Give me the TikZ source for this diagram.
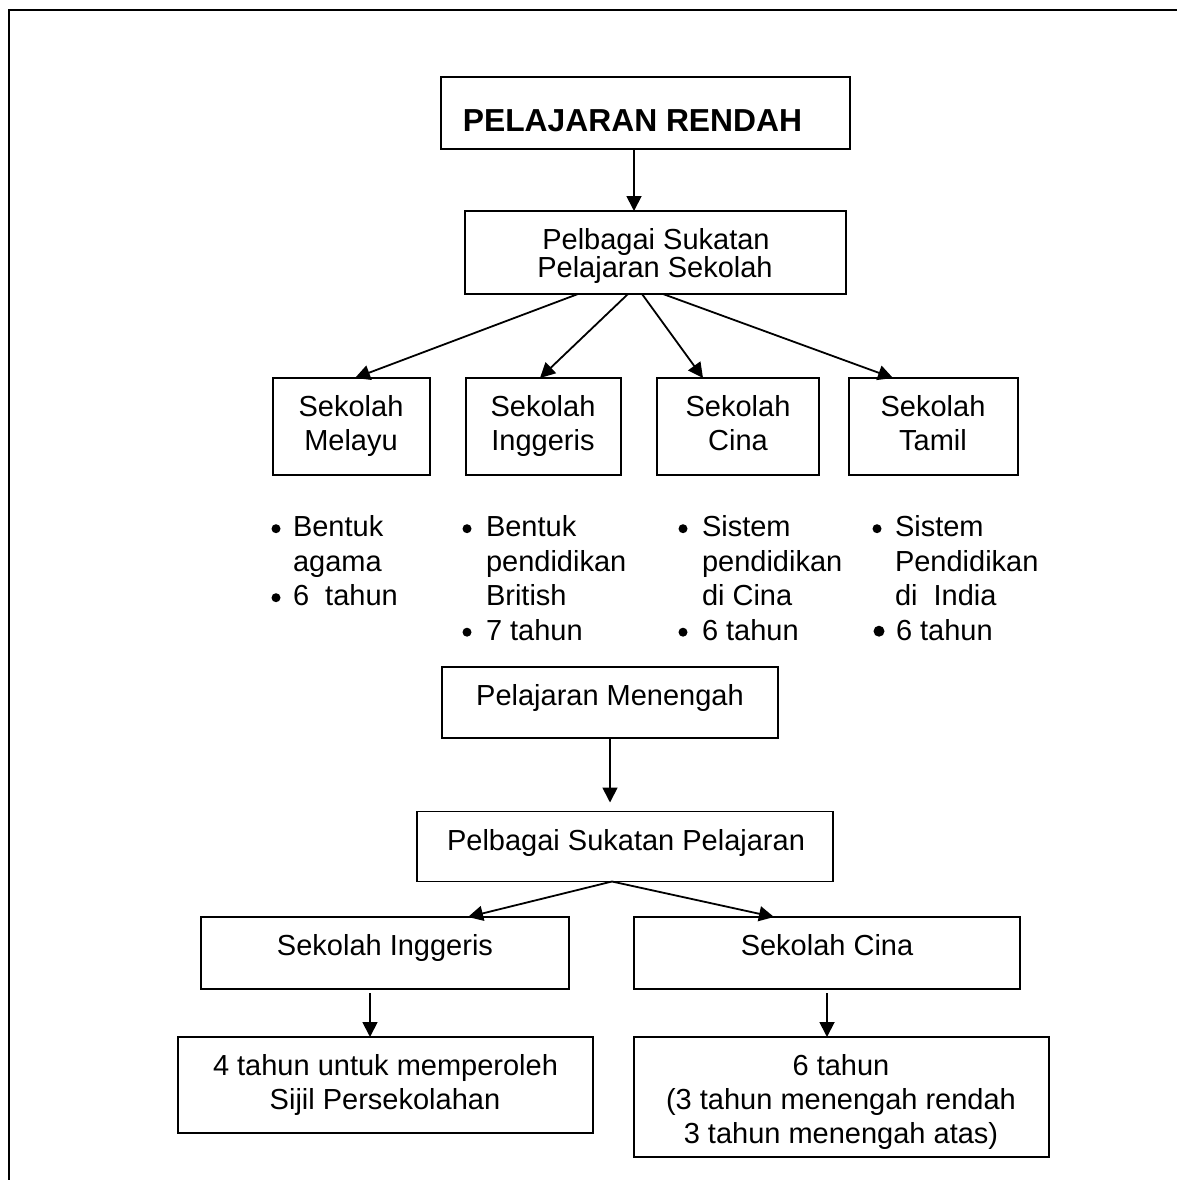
\documentclass[tikz,border=0pt]{standalone}
\usepackage{fontspec}
\setmainfont{Liberation Sans}
\usetikzlibrary{arrows.meta}
\newcommand\fsn{\fontsize{29}{34.5}\selectfont}
\newcommand\fsb{\fontsize{31.8}{36}\selectfont\bfseries}
\begin{document}
\begin{tikzpicture}[x=1pt,y=-1pt,
  box/.style={draw, line width=1.8pt, inner sep=0pt, outer sep=0pt},
  txt/.style={inner sep=0pt, outer sep=0pt, font=\fsn, anchor=base},
  ltxt/.style={txt, anchor=base west},
  arr/.style={line width=1.8pt, -{Triangle[length=15pt,width=15pt]}},
  dot/.style={circle, fill, draw=none, inner sep=0pt, minimum size=9pt},
  bigdot/.style={dot, minimum size=11pt}]
\useasboundingbox (0,0) rectangle (1177,1180);
% outer frame
\draw[line width=2.6pt] (9,1190) -- (9,10) -- (1190,10);

% boxes
\node[box, minimum width=409pt, minimum height=72pt] (top) at (645.5,113) {};
\node[box, minimum width=381pt, minimum height=83pt] (pss) at (655.5,252.5) {};
\node[box, minimum width=157pt, minimum height=97pt] (mel) at (351.5,426.5) {};
\node[box, minimum width=155pt, minimum height=97pt] (ing) at (543.5,426.5) {};
\node[box, minimum width=162pt, minimum height=97pt] (cin) at (738,426.5) {};
\node[box, minimum width=169pt, minimum height=97pt] (tam) at (933.5,426.5) {};
\node[box, minimum width=336pt, minimum height=71pt] (men) at (610,702.5) {};
\node[box, minimum width=416pt, minimum height=70pt] (psp) at (625,846.5) {};
\node[box, minimum width=368pt, minimum height=72pt] (singb) at (385,953) {};
\node[box, minimum width=386pt, minimum height=72pt] (scinb) at (827,953) {};
\node[box, minimum width=415pt, minimum height=96pt] (four) at (385.5,1085) {};
\node[box, minimum width=415pt, minimum height=120pt] (six) at (841.5,1097) {};

% texts in boxes
\node[txt, font=\fsb] (ttop) at (632.5,131.5) {PELAJARAN RENDAH};
\node[txt] (tpss1) at (656,249) {Pelbagai Sukatan};
\node[txt] (tpss2) at (655,277) {Pelajaran Sekolah};
\node[txt] (tmel1) at (351,416.7) {Sekolah};
\node[txt] (tmel2) at (351,450) {Melayu};
\node[txt] (ting1) at (543,416.7) {Sekolah};
\node[txt] (ting2) at (543,450) {Inggeris};
\node[txt] (tcin1) at (738,416.7) {Sekolah};
\node[txt] (tcin2) at (738,450) {Cina};
\node[txt] (ttam1) at (933,416.7) {Sekolah};
\node[txt] (ttam2) at (933,450) {Tamil};
\node[txt] (tmen) at (610,705) {Pelajaran Menengah};
\node[txt] (tpsp) at (626,850) {Pelbagai Sukatan Pelajaran};
\node[txt] (tsingb) at (385,955) {Sekolah Inggeris};
\node[txt] (tscinb) at (827,955) {Sekolah Cina};
\node[txt] (tfour1) at (385.5,1075) {4 tahun untuk memperoleh};
\node[txt] (tfour2) at (385,1109) {Sijil Persekolahan};
\node[txt] (tsix1) at (841,1075) {6 tahun};
\node[txt] (tsix2) at (841,1109) {(3 tahun menengah rendah};
\node[txt] (tsix3) at (841,1143) {3 tahun menengah atas)};

% bullet lists
\node[dot] (bm1) at (276,528.7) {};
\node[ltxt] (lm1) at (293,536.7) {Bentuk};
\node[ltxt] (lm2) at (293,571.2) {agama};
\node[dot] (bm3) at (276,597.7) {};
\node[ltxt] (lm3) at (293,605.7) {6\ \ tahun};

\node[dot] (bi1) at (467,528.7) {};
\node[ltxt] (li1) at (486,536.7) {Bentuk};
\node[ltxt] (li2) at (486,571.2) {pendidikan};
\node[ltxt] (li3) at (486,605.7) {British};
\node[dot] (bi4) at (467,632.2) {};
\node[ltxt] (li4) at (486,640.2) {7 tahun};

\node[dot] (bc1) at (683,528.7) {};
\node[ltxt] (lc1) at (702,536.7) {Sistem};
\node[ltxt] (lc2) at (702,571.2) {pendidikan};
\node[ltxt] (lc3) at (702,605.7) {di Cina};
\node[dot] (bc4) at (683,632.2) {};
\node[ltxt] (lc4) at (702,640.2) {6 tahun};

\node[dot] (bt1) at (877,528.7) {};
\node[ltxt] (lt1) at (895,536.7) {Sistem};
\node[ltxt] (lt2) at (895,571.2) {Pendidikan};
\node[ltxt] (lt3) at (895,605.7) {di\ \ India};
\node[bigdot] (bt4) at (879,631.2) {};
\node[ltxt] (lt4) at (896,640.2) {6 tahun};

% connectors
\draw[arr] ([xshift=-11.5pt]top.south) -- ([xshift=-21.5pt]pss.north);
\draw[arr] ([xshift=-77.5pt]pss.south) -- ([xshift=3.5pt]mel.north);
\draw[arr] ([xshift=-27.5pt]pss.south) -- ([xshift=-3.5pt]ing.north);
\draw[arr] ([xshift=-13.5pt]pss.south) -- ([xshift=-35pt]cin.north);
\draw[arr] ([xshift=7.5pt]pss.south) -- ([xshift=-40.5pt]tam.north);
\draw[arr] (men.south) -- ([xshift=-15pt,yshift=9pt]psp.north);
\draw[arr] ([xshift=-13pt]psp.south) -- ([xshift=83pt]singb.north);
\draw[arr] ([xshift=-13pt]psp.south) -- ([xshift=-53pt]scinb.north);
\draw[arr] ([xshift=-15pt,yshift=-4pt]singb.south) -- ([xshift=-15.5pt]four.north);
\draw[arr] ([yshift=-4pt]scinb.south) -- ([xshift=-14.5pt]six.north);
\end{tikzpicture}
\end{document}
